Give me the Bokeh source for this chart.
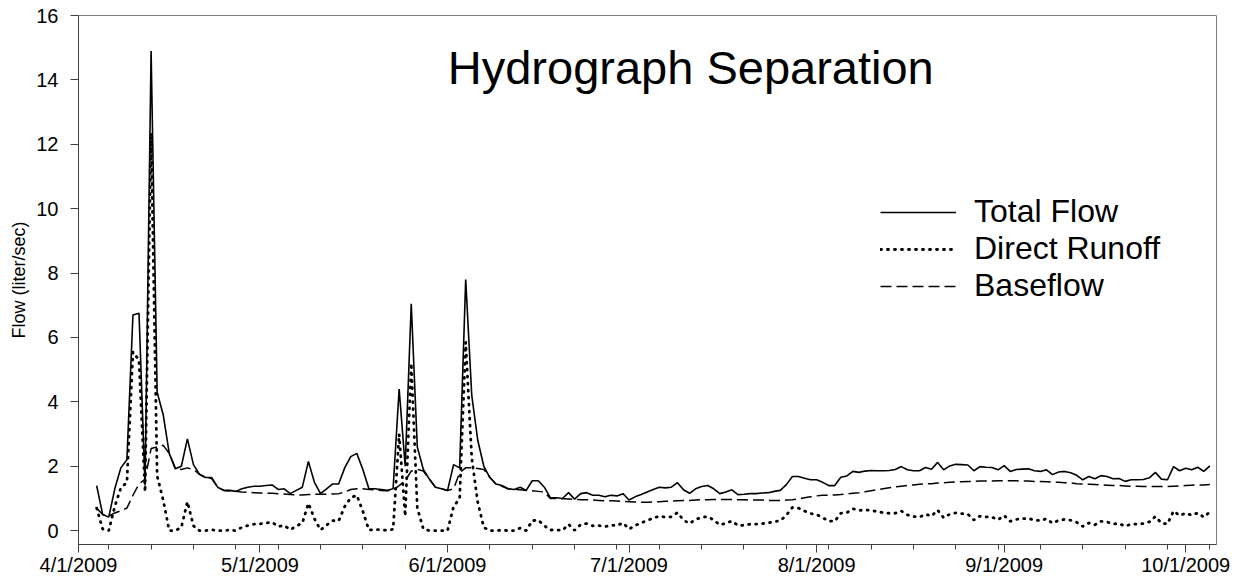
import pandas as pd
from bokeh.plotting import figure
from bokeh.models import FixedTicker, Range1d, Label, Legend, LegendItem, Title
from bokeh.embed import file_html
from bokeh.resources import INLINE

# ---------------- data (daily, 4/4/2009 .. 10/5/2009) ----------------
origin_date = "2009-04-01"
first_date = "2009-04-04"

total_flow = [
    1.40, 0.50, 0.42, 1.30, 1.95, 2.20, 6.70, 6.75, 1.40, 14.90,
    4.30, 3.60, 2.40, 1.92, 2.00, 2.85, 2.05, 1.75, 1.65, 1.65,
    1.35, 1.25, 1.25, 1.22, 1.30, 1.35, 1.38, 1.38, 1.40, 1.42,
    1.28, 1.30, 1.15, 1.25, 1.35, 2.15, 1.50, 1.15, 1.30, 1.45,
    1.45, 1.95, 2.30, 2.40, 1.90, 1.30, 1.30, 1.28, 1.25, 1.30,
    4.40, 2.00, 7.05, 2.60, 1.90, 1.60, 1.35, 1.30, 1.25, 2.05,
    1.95, 7.80, 4.20, 2.80, 2.00, 1.65, 1.45, 1.40, 1.30, 1.28,
    1.35, 1.25, 1.55, 1.55, 1.35, 1.02, 1.02, 1.00, 1.18, 0.98,
    1.15, 1.18, 1.10, 1.10, 1.05, 1.10, 1.08, 1.15, 0.95, 1.05,
    1.12, 1.20, 1.28, 1.35, 1.33, 1.35, 1.49, 1.27, 1.16, 1.30,
    1.37, 1.40, 1.30, 1.15, 1.20, 1.27, 1.12, 1.13, 1.15, 1.15,
    1.17, 1.18, 1.22, 1.25, 1.43, 1.68, 1.68, 1.63, 1.58, 1.58,
    1.50, 1.40, 1.40, 1.66, 1.70, 1.84, 1.81, 1.85, 1.87, 1.86,
    1.86, 1.87, 1.90, 1.99, 1.89, 1.86, 1.86, 1.96, 1.91, 2.12,
    1.89, 2.01, 2.06, 2.05, 2.04, 1.86, 1.99, 1.97, 1.96, 1.89,
    2.02, 1.84, 1.90, 1.91, 1.92, 1.86, 1.84, 1.89, 1.74, 1.82,
    1.84, 1.80, 1.72, 1.58, 1.68, 1.61, 1.71, 1.68, 1.61, 1.62,
    1.53, 1.58, 1.58, 1.59, 1.64, 1.81, 1.60, 1.58, 1.99, 1.86,
    1.94, 1.89, 1.97, 1.84, 2.01,
]

direct_runoff = [
    0.70, 0.05, 0.00, 0.75, 1.33, 1.50, 5.55, 5.30, 1.20, 12.35,
    1.70, 0.95, 0.00, 0.00, 0.10, 0.90, 0.15, 0.00, 0.00, 0.03,
    0.00, 0.00, 0.02, 0.00, 0.10, 0.16, 0.20, 0.21, 0.24, 0.26,
    0.13, 0.16, 0.03, 0.14, 0.24, 0.85, 0.37, 0.02, 0.17, 0.31,
    0.30, 0.75, 1.02, 1.10, 0.60, 0.02, 0.03, 0.03, 0.01, 0.04,
    3.00, 0.45, 5.20, 0.70, 0.05, 0.00, 0.00, 0.00, 0.00, 0.75,
    1.00, 5.85, 2.25, 0.87, 0.10, 0.00, 0.00, 0.02, 0.00, 0.00,
    0.08, 0.00, 0.31, 0.33, 0.15, 0.02, 0.02, 0.01, 0.20, 0.01,
    0.19, 0.22, 0.15, 0.16, 0.12, 0.17, 0.16, 0.24, 0.05, 0.16,
    0.24, 0.32, 0.39, 0.45, 0.42, 0.43, 0.56, 0.33, 0.22, 0.35,
    0.41, 0.44, 0.33, 0.18, 0.23, 0.30, 0.16, 0.17, 0.20, 0.20,
    0.22, 0.24, 0.28, 0.31, 0.48, 0.72, 0.70, 0.61, 0.53, 0.50,
    0.40, 0.30, 0.29, 0.54, 0.56, 0.68, 0.63, 0.64, 0.63, 0.59,
    0.56, 0.54, 0.54, 0.61, 0.49, 0.44, 0.42, 0.51, 0.45, 0.64,
    0.40, 0.51, 0.55, 0.53, 0.51, 0.33, 0.45, 0.43, 0.42, 0.34,
    0.47, 0.29, 0.35, 0.37, 0.38, 0.33, 0.31, 0.37, 0.23, 0.32,
    0.35, 0.32, 0.26, 0.13, 0.24, 0.18, 0.29, 0.27, 0.21, 0.22,
    0.14, 0.20, 0.20, 0.22, 0.27, 0.44, 0.23, 0.21, 0.61, 0.47,
    0.54, 0.48, 0.55, 0.42, 0.58,
]

baseflow = [
    0.70, 0.50, 0.45, 0.55, 0.62, 0.70, 1.10, 1.45, 1.60, 2.55,
    2.60, 2.65, 2.40, 1.95, 1.90, 1.95, 1.90, 1.75, 1.65, 1.62,
    1.35, 1.25, 1.23, 1.22, 1.20, 1.19, 1.18, 1.17, 1.16, 1.16,
    1.15, 1.14, 1.12, 1.11, 1.11, 1.12, 1.13, 1.13, 1.13, 1.14,
    1.15, 1.20, 1.28, 1.30, 1.30, 1.28, 1.27, 1.25, 1.24, 1.26,
    1.40, 1.55, 1.85, 1.90, 1.85, 1.60, 1.35, 1.30, 1.25, 1.30,
    1.80, 1.95, 1.95, 1.93, 1.90, 1.65, 1.45, 1.38, 1.30, 1.28,
    1.27, 1.25, 1.24, 1.22, 1.20, 1.00, 1.00, 0.99, 0.98, 0.97,
    0.96, 0.96, 0.95, 0.94, 0.93, 0.93, 0.92, 0.91, 0.90, 0.89,
    0.88, 0.88, 0.89, 0.90, 0.91, 0.92, 0.93, 0.94, 0.94, 0.95,
    0.96, 0.96, 0.97, 0.97, 0.97, 0.97, 0.96, 0.96, 0.95, 0.95,
    0.95, 0.94, 0.94, 0.94, 0.95, 0.96, 0.98, 1.02, 1.05, 1.08,
    1.10, 1.10, 1.11, 1.12, 1.14, 1.16, 1.18, 1.21, 1.24, 1.27,
    1.30, 1.33, 1.36, 1.38, 1.40, 1.42, 1.44, 1.45, 1.46, 1.48,
    1.49, 1.50, 1.51, 1.52, 1.53, 1.53, 1.54, 1.54, 1.54, 1.55,
    1.55, 1.55, 1.55, 1.54, 1.54, 1.53, 1.53, 1.52, 1.51, 1.50,
    1.49, 1.48, 1.46, 1.45, 1.44, 1.43, 1.42, 1.41, 1.40, 1.40,
    1.39, 1.38, 1.38, 1.37, 1.37, 1.37, 1.37, 1.37, 1.38, 1.39,
    1.40, 1.41, 1.42, 1.42, 1.43,
]

tick_dates = ["2009-04-01", "2009-05-01", "2009-06-01", "2009-07-01",
              "2009-08-01", "2009-09-01", "2009-10-01"]
tick_labels = ["4/1/2009", "5/1/2009", "6/1/2009", "7/1/2009",
               "8/1/2009", "9/1/2009", "10/1/2009"]
y_ticks = [0, 2, 4, 6, 8, 10, 12, 14, 16]

# ---------------- derived x positions (days since 4/1/2009) ----------------
origin = pd.Timestamp(origin_date)
dates = pd.date_range(first_date, periods=len(total_flow), freq="D")
x_days = [int((d - origin).days) for d in dates]
major_ticks = [int((pd.Timestamp(d) - origin).days) for d in tick_dates]
minor_ticks = [int((d - origin).days)
               for d in pd.date_range("2009-04-06", "2009-10-05", freq="7D")]

FONT = "Liberation Sans"

p = figure(width=1231, height=578, output_backend="svg", toolbar_location=None,
           x_range=Range1d(0, 188.1), y_range=Range1d(-0.43, 16.0))
p.min_border_left = 78
p.min_border_right = 15
p.min_border_top = 15
p.min_border_bottom = 33
p.background_fill_color = "white"
p.border_fill_color = "white"
p.outline_line_color = "#808080"
p.outline_line_width = 1
p.xgrid.visible = False
p.ygrid.visible = False

r_total = p.line(x_days, total_flow, line_color="black", line_width=1.6)
r_direct = p.line(x_days, direct_runoff, line_color="black", line_width=2.8,
                  line_dash="1 6", line_cap="round")
r_base = p.line(x_days, baseflow, line_color="black", line_width=1.5,
                line_dash="11 5")

# x axis
xa = p.xaxis[0]
xa.ticker = FixedTicker(ticks=major_ticks, minor_ticks=minor_ticks)
xa.major_label_overrides = {t: lab for t, lab in zip(major_ticks, tick_labels)}
xa.major_label_text_font = FONT
xa.major_label_text_font_size = "20px"
xa.major_label_text_color = "black"
xa.major_label_standoff = 1
xa.major_tick_out = 8
xa.major_tick_in = 0
xa.minor_tick_out = 5
xa.minor_tick_in = 0
xa.axis_line_color = "#404040"
xa.major_tick_line_color = "#404040"
xa.minor_tick_line_color = "#404040"

# y axis
ya = p.yaxis[0]
ya.ticker = FixedTicker(ticks=y_ticks)
ya.major_label_text_font = FONT
ya.major_label_text_font_size = "20px"
ya.major_label_text_color = "black"
ya.major_label_standoff = 12
ya.major_tick_out = 8
ya.major_tick_in = 0
ya.minor_tick_line_color = None
ya.axis_line_color = "#404040"
ya.major_tick_line_color = "#404040"

# y axis title, shifted up a little like in the original
y_title = Title(text="Flow (liter/sec)", align="center", offset=38,
                text_font=FONT, text_font_size="18px",
                text_font_style="normal", text_color="black")
p.add_layout(y_title, "left")

# title inside the plot area
title = Label(x=101.2, y=14.39, text="Hydrograph Separation",
              text_font=FONT, text_font_size="47px", text_color="black",
              text_align="center", text_baseline="alphabetic")
p.add_layout(title)

legend = Legend(items=[
    LegendItem(label="Total Flow", renderers=[r_total]),
    LegendItem(label="Direct Runoff", renderers=[r_direct]),
    LegendItem(label="Baseflow", renderers=[r_base]),
], location=(802, 240))
legend.label_text_font = FONT
legend.label_text_font_size = "32px"
legend.label_text_color = "black"
legend.glyph_width = 76
legend.glyph_height = 36
legend.label_height = 36
legend.label_standoff = 18
legend.spacing = 0
legend.padding = 0
legend.margin = 0
legend.border_line_color = None
legend.background_fill_alpha = 0
p.add_layout(legend)

open("out.html", "w").write(file_html(p, INLINE))
